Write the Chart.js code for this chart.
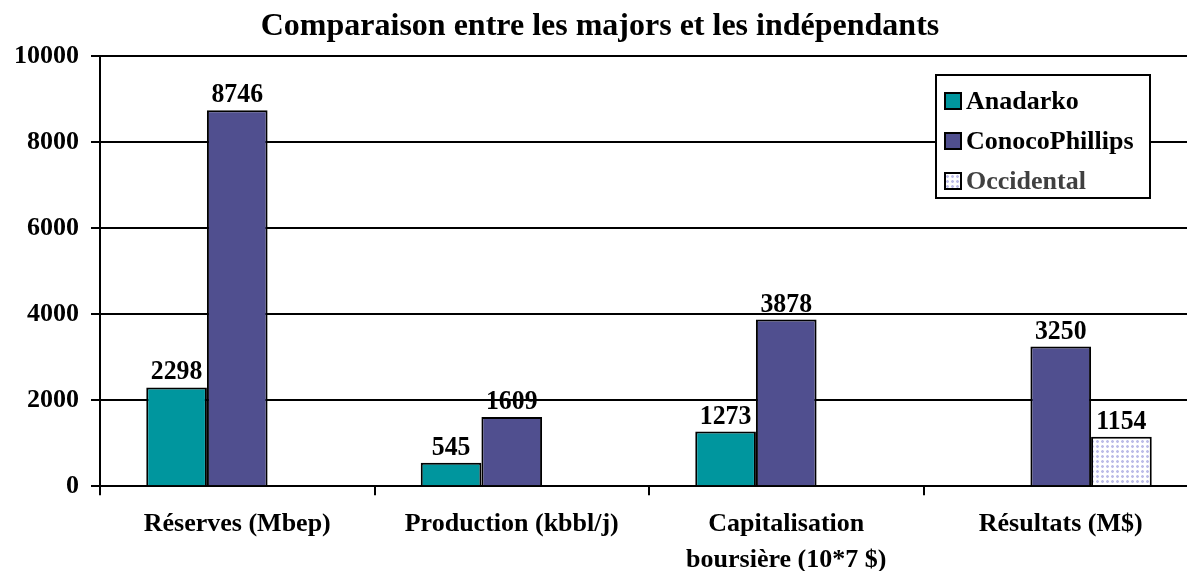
<!DOCTYPE html>
<html>
<head>
<meta charset="utf-8">
<script src="https://cdn.jsdelivr.net/npm/chart.js@4.4.1/dist/chart.umd.min.js"></script>
<style>
  html, body { margin: 0; padding: 0; background: #fff; overflow: hidden; }
  #wrap { width: 1198px; height: 589px; }
</style>
</head>
<body>
<div id="wrap"><canvas id="chart" width="1198" height="589"></canvas></div>
<script>
// data
const categories = [
    'Réserves (Mbep)',
    'Production (kbbl/j)',
    ['Capitalisation', 'boursière (10*7 $)'],
    'Résultats (M$)'
];
const anadarko = [2298, 545, 1273, null];
const conocoPhillips = [8746, 1609, 3878, 3250];
const occidental = [null, null, null, 1154];
const yTicks = [0, 2000, 4000, 6000, 8000, 10000];

const FONT = "'Liberation Serif', 'Times New Roman', serif";

// dotted fill for Occidental
function makeDots() {
    const c = document.createElement('canvas');
    c.width = 5; c.height = 5;
    const g = c.getContext('2d');
    g.fillStyle = '#ffffff';
    g.fillRect(0, 0, 5, 5);
    g.fillStyle = '#bcbce8';
    g.fillRect(1, 1, 3, 1);
    g.fillRect(2, 0, 1, 3);
    g.fillStyle = '#e4e4f6';
    g.fillRect(1, 0, 1, 1);
    g.fillRect(3, 0, 1, 1);
    g.fillRect(1, 2, 1, 1);
    g.fillRect(3, 2, 1, 1);
    return g.createPattern(c, 'repeat');
}
const dots = makeDots();

// value above each bar (slightly narrow glyphs like the original)
const dataLabels = {
    id: 'dataLabels',
    afterDatasetsDraw(chart) {
        const ctx = chart.ctx;
        ctx.save();
        ctx.font = 'bold 28px ' + FONT;
        ctx.fillStyle = '#000';
        ctx.textAlign = 'center';
        ctx.textBaseline = 'alphabetic';
        chart.data.datasets.forEach((ds, i) => {
            const meta = chart.getDatasetMeta(i);
            meta.data.forEach((bar, j) => {
                const v = ds.data[j];
                if (v == null) return;
                ctx.save();
                ctx.translate(bar.x, bar.y - 8);
                ctx.scale(0.92, 1);
                ctx.fillText(String(v), 0, 0);
                ctx.restore();
            });
        });
        ctx.restore();
    }
};

// framed legend in the top right corner
const boxLegend = {
    id: 'boxLegend',
    afterDraw(chart) {
        const ctx = chart.ctx;
        const x = 936, y = 75, w = 214, h = 123;
        ctx.save();
        ctx.fillStyle = '#fff';
        ctx.fillRect(x, y, w, h);
        ctx.lineWidth = 2;
        ctx.strokeStyle = '#000';
        ctx.strokeRect(x, y, w, h);
        ctx.font = 'bold 26px ' + FONT;
        ctx.textBaseline = 'middle';
        chart.data.datasets.forEach((ds, i) => {
            const cy = y + 26 + i * 40;
            ctx.fillStyle = ds.backgroundColor;
            ctx.fillRect(x + 9, cy - 8, 16, 16);
            ctx.lineWidth = 2;
            ctx.strokeRect(x + 9, cy - 8, 16, 16);
            ctx.fillStyle = ds.legendColor || '#000';
            ctx.fillText(ds.label, x + 30, cy + 1);
        });
        ctx.restore();
    }
};

const ctx = document.getElementById('chart').getContext('2d');
new Chart(ctx, {
    type: 'bar',
    data: {
        labels: categories,
        datasets: [
            {
                label: 'Anadarko',
                data: anadarko,
                backgroundColor: '#00969e',
                borderColor: '#000',
                borderWidth: 2
            },
            {
                label: 'ConocoPhillips',
                data: conocoPhillips,
                backgroundColor: '#504f8f',
                borderColor: '#000',
                borderWidth: 2
            },
            {
                label: 'Occidental',
                data: occidental,
                backgroundColor: dots,
                borderColor: '#000',
                borderWidth: 2,
                legendColor: '#404040'
            }
        ]
    },
    options: {
        responsive: false,
        animation: false,
        categoryPercentage: 0.663,
        barPercentage: 1,
        layout: { padding: { left: 2, right: 0, top: 0, bottom: 0 } },
        scales: {
            x: {
                grid: {
                    drawOnChartArea: false,
                    color: '#000',
                    lineWidth: 2,
                    tickLength: 9
                },
                border: { color: '#000', width: 2 },
                ticks: {
                    color: '#000',
                    maxRotation: 0,
                    font: { family: FONT, size: 26, weight: 'bold', lineHeight: 1.38 },
                    padding: 11
                }
            },
            y: {
                min: 0,
                max: 10000,
                afterBuildTicks(axis) {
                    axis.ticks = yTicks.map(v => ({ value: v }));
                },
                grid: {
                    color: '#000',
                    lineWidth: 2,
                    tickLength: 9
                },
                border: { color: '#000', width: 2 },
                ticks: {
                    color: '#000',
                    font: { family: FONT, size: 26, weight: 'bold' },
                    padding: 12,
                    callback: v => String(v)
                }
            }
        },
        plugins: {
            legend: { display: false },
            tooltip: { enabled: false },
            title: {
                display: true,
                text: 'Comparaison entre les majors et les indépendants',
                color: '#000',
                font: { family: FONT, size: 32, weight: 'bold' },
                padding: { top: 8, bottom: 10 }
            }
        }
    },
    plugins: [dataLabels, boxLegend]
});
</script>
</body>
</html>
